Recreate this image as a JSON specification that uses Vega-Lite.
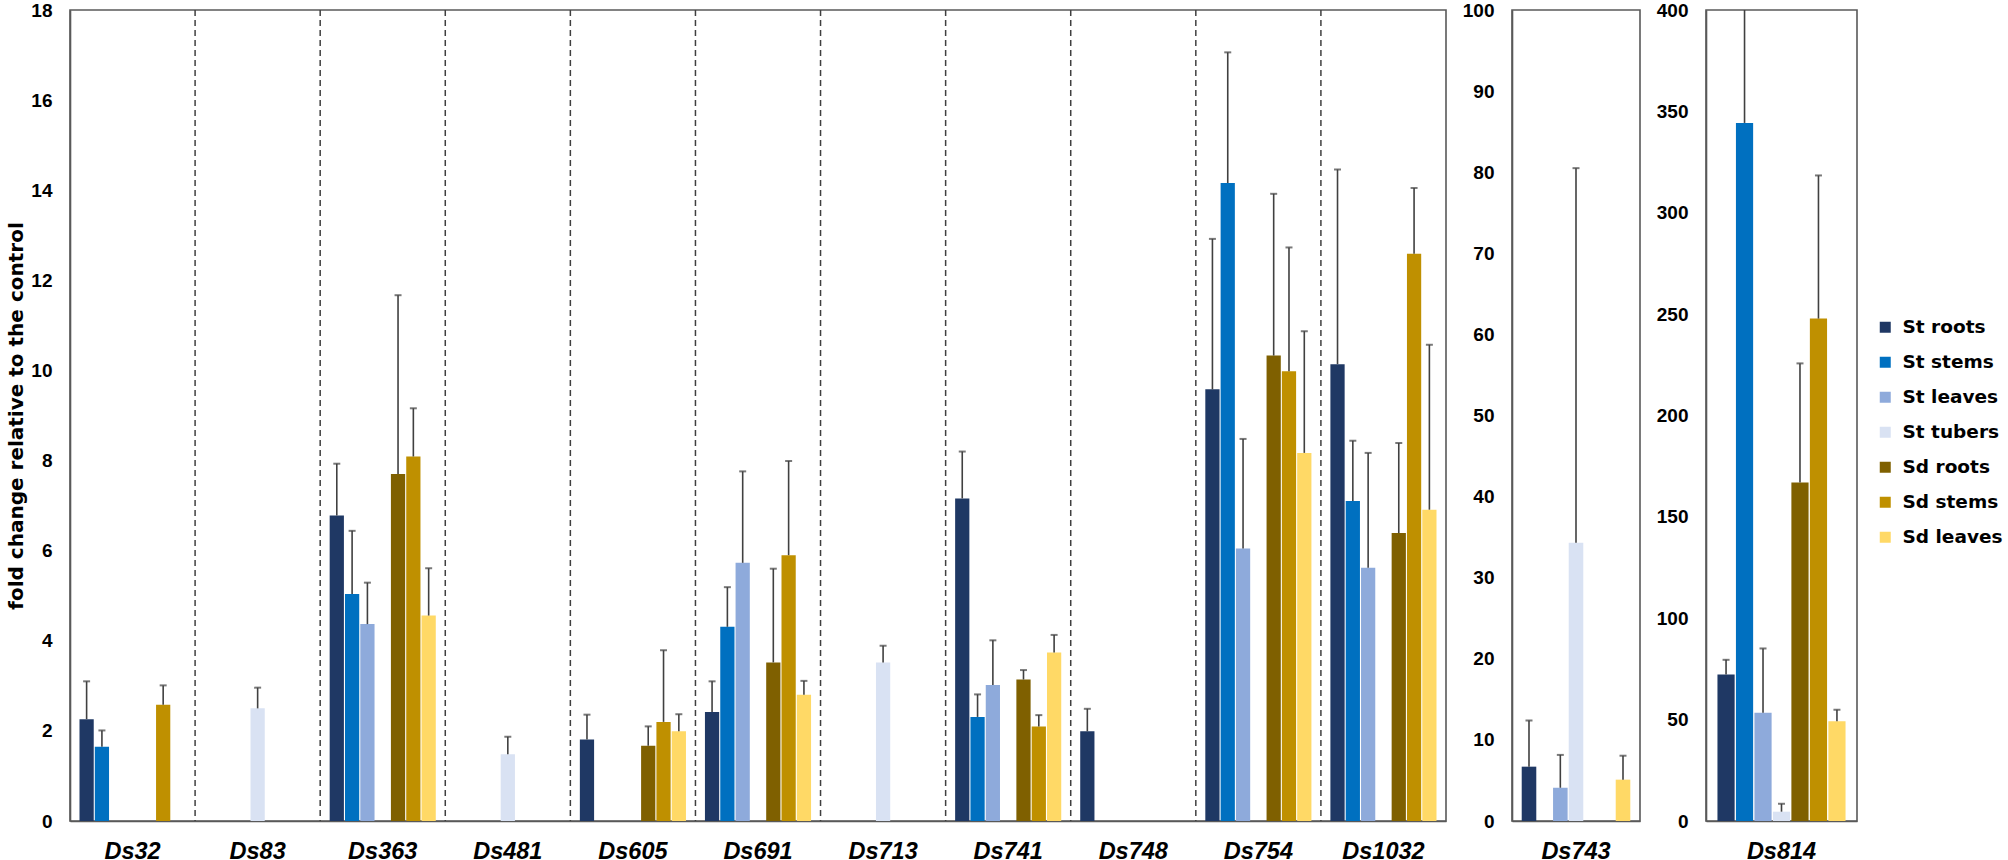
{
  "$schema": "https://vega.github.io/schema/vega-lite/v6.json",
  "background": "white",
  "padding": {"left": 5, "top": 0, "right": 0, "bottom": 0},
  "bounds": "flush",
  "spacing": 66,
  "config": {
    "view": {"stroke": "#595959", "strokeWidth": 1.6},
    "axis": {
      "grid": false, "domainColor": "#595959", "domainWidth": 1.6,
      "ticks": false, "tickSize": 0,
      "labelFont": "Liberation Sans", "labelFontWeight": "bold", "labelColor": "#000000", "titleColor": "#000000"
    },
    "axisX": {"labelFontSize": 23.5, "labelFontStyle": "italic", "labelPadding": 18, "labelAngle": 0, "title": null},
    "axisY": {"labelFontSize": 19, "labelPadding": 18, "labelBaseline": "middle"}
  },
  "data": {"values": [
    {"panel": "main", "gene": "Ds32", "tissue": "St roots", "value": 2.26, "err": 3.10},
    {"panel": "main", "gene": "Ds32", "tissue": "St stems", "value": 1.65, "err": 2.01},
    {"panel": "main", "gene": "Ds32", "tissue": "Sd stems", "value": 2.58, "err": 3.01},
    {"panel": "main", "gene": "Ds83", "tissue": "St tubers", "value": 2.50, "err": 2.96},
    {"panel": "main", "gene": "Ds363", "tissue": "St roots", "value": 6.78, "err": 7.93},
    {"panel": "main", "gene": "Ds363", "tissue": "St stems", "value": 5.04, "err": 6.44},
    {"panel": "main", "gene": "Ds363", "tissue": "St leaves", "value": 4.37, "err": 5.29},
    {"panel": "main", "gene": "Ds363", "tissue": "Sd roots", "value": 7.70, "err": 11.67},
    {"panel": "main", "gene": "Ds363", "tissue": "Sd stems", "value": 8.09, "err": 9.16},
    {"panel": "main", "gene": "Ds363", "tissue": "Sd leaves", "value": 4.56, "err": 5.61},
    {"panel": "main", "gene": "Ds481", "tissue": "St tubers", "value": 1.48, "err": 1.87},
    {"panel": "main", "gene": "Ds605", "tissue": "St roots", "value": 1.81, "err": 2.36},
    {"panel": "main", "gene": "Ds605", "tissue": "Sd roots", "value": 1.67, "err": 2.10},
    {"panel": "main", "gene": "Ds605", "tissue": "Sd stems", "value": 2.20, "err": 3.79},
    {"panel": "main", "gene": "Ds605", "tissue": "Sd leaves", "value": 1.99, "err": 2.37},
    {"panel": "main", "gene": "Ds691", "tissue": "St roots", "value": 2.42, "err": 3.10},
    {"panel": "main", "gene": "Ds691", "tissue": "St stems", "value": 4.31, "err": 5.19},
    {"panel": "main", "gene": "Ds691", "tissue": "St leaves", "value": 5.73, "err": 7.76},
    {"panel": "main", "gene": "Ds691", "tissue": "Sd roots", "value": 3.52, "err": 5.60},
    {"panel": "main", "gene": "Ds691", "tissue": "Sd stems", "value": 5.90, "err": 7.99},
    {"panel": "main", "gene": "Ds691", "tissue": "Sd leaves", "value": 2.80, "err": 3.11},
    {"panel": "main", "gene": "Ds713", "tissue": "St tubers", "value": 3.52, "err": 3.89},
    {"panel": "main", "gene": "Ds741", "tissue": "St roots", "value": 7.16, "err": 8.20},
    {"panel": "main", "gene": "Ds741", "tissue": "St stems", "value": 2.31, "err": 2.81},
    {"panel": "main", "gene": "Ds741", "tissue": "St leaves", "value": 3.02, "err": 4.01},
    {"panel": "main", "gene": "Ds741", "tissue": "Sd roots", "value": 3.14, "err": 3.35},
    {"panel": "main", "gene": "Ds741", "tissue": "Sd stems", "value": 2.10, "err": 2.35},
    {"panel": "main", "gene": "Ds741", "tissue": "Sd leaves", "value": 3.74, "err": 4.13},
    {"panel": "main", "gene": "Ds748", "tissue": "St roots", "value": 1.99, "err": 2.49},
    {"panel": "main", "gene": "Ds754", "tissue": "St roots", "value": 9.58, "err": 12.92},
    {"panel": "main", "gene": "Ds754", "tissue": "St stems", "value": 14.16, "err": 17.06},
    {"panel": "main", "gene": "Ds754", "tissue": "St leaves", "value": 6.05, "err": 8.48},
    {"panel": "main", "gene": "Ds754", "tissue": "Sd roots", "value": 10.33, "err": 13.92},
    {"panel": "main", "gene": "Ds754", "tissue": "Sd stems", "value": 9.98, "err": 12.73},
    {"panel": "main", "gene": "Ds754", "tissue": "Sd leaves", "value": 8.17, "err": 10.87},
    {"panel": "main", "gene": "Ds1032", "tissue": "St roots", "value": 10.14, "err": 14.46},
    {"panel": "main", "gene": "Ds1032", "tissue": "St stems", "value": 7.10, "err": 8.44},
    {"panel": "main", "gene": "Ds1032", "tissue": "St leaves", "value": 5.62, "err": 8.17},
    {"panel": "main", "gene": "Ds1032", "tissue": "Sd roots", "value": 6.39, "err": 8.39},
    {"panel": "main", "gene": "Ds1032", "tissue": "Sd stems", "value": 12.59, "err": 14.05},
    {"panel": "main", "gene": "Ds1032", "tissue": "Sd leaves", "value": 6.91, "err": 10.57},
    {"panel": "p743", "gene": "Ds743", "tissue": "St roots", "value": 6.7, "err": 12.4},
    {"panel": "p743", "gene": "Ds743", "tissue": "St leaves", "value": 4.1, "err": 8.15},
    {"panel": "p743", "gene": "Ds743", "tissue": "St tubers", "value": 34.3, "err": 80.5},
    {"panel": "p743", "gene": "Ds743", "tissue": "Sd leaves", "value": 5.1, "err": 8.05},
    {"panel": "p814", "gene": "Ds814", "tissue": "St roots", "value": 72.2, "err": 79.5},
    {"panel": "p814", "gene": "Ds814", "tissue": "St stems", "value": 344.3, "err": 430},
    {"panel": "p814", "gene": "Ds814", "tissue": "St leaves", "value": 53.4, "err": 85.1},
    {"panel": "p814", "gene": "Ds814", "tissue": "St tubers", "value": 4.6, "err": 8.5},
    {"panel": "p814", "gene": "Ds814", "tissue": "Sd roots", "value": 167, "err": 225.7},
    {"panel": "p814", "gene": "Ds814", "tissue": "Sd stems", "value": 247.8, "err": 318.4},
    {"panel": "p814", "gene": "Ds814", "tissue": "Sd leaves", "value": 49.2, "err": 54.9}
  ]},
  "hconcat": [
    {
      "width": 1376, "height": 811,
      "transform": [{"filter": "datum.panel == 'main'"}],
      "layer": [
        {
          "transform": [{"aggregate": [{"op": "count", "as": "n"}], "groupby": ["gene"]}, {"filter": "datum.gene != 'Ds32'"}],
          "mark": {"type": "rule", "strokeDash": [6, 4], "color": "#404040", "strokeWidth": 1.5},
          "encoding": {
            "x": {"field": "gene", "type": "nominal", "bandPosition": 0,
                  "scale": {"domain": ["Ds32","Ds83","Ds363","Ds481","Ds605","Ds691","Ds713","Ds741","Ds748","Ds754","Ds1032"], "paddingInner": 0, "paddingOuter": 0}}
          }
        },
        {
          "mark": {"type": "bar"},
          "encoding": {
            "x": {"field": "gene", "type": "nominal",
                  "scale": {"domain": ["Ds32","Ds83","Ds363","Ds481","Ds605","Ds691","Ds713","Ds741","Ds748","Ds754","Ds1032"], "paddingInner": 0, "paddingOuter": 0}},
            "xOffset": {"field": "tissue", "type": "nominal", "scale": {"domain": ["St roots","St stems","St leaves","St tubers","Sd roots","Sd stems","Sd leaves"], "paddingInner": 0.07, "paddingOuter": 0.62}},
            "y": {"field": "value", "type": "quantitative", "scale": {"domain": [0, 18], "nice": false},
                  "axis": {"values": [0,2,4,6,8,10,12,14,16,18], "title": "fold change relative to the control",
                           "titleFont": "DejaVu Sans", "titleFontSize": 20, "titleFontWeight": "bold",
                           "titleAngle": 270, "titleX": -48, "titleY": 405.5, "titleBaseline": "alphabetic", "titleAlign": "center"}},
            "color": {"field": "tissue", "type": "nominal",
                      "scale": {"domain": ["St roots","St stems","St leaves","St tubers","Sd roots","Sd stems","Sd leaves"],
                                "range": ["#1f3864","#0070c0","#8eaadb","#d9e2f3","#7f6000","#bf9000","#ffd966"]},
                      "legend": {"title": null, "orient": "none", "legendX": 1806, "legendY": 308,
                                 "symbolType": "square", "symbolSize": 121, "symbolStrokeWidth": 0,
                                 "labelFont": "DejaVu Sans", "labelFontWeight": "bold", "labelFontSize": 18.5, "labelColor": "#000000",
                                 "rowPadding": 16, "labelOffset": 8, "padding": 0}}
          }
        },
        {
          "mark": {"type": "rule", "color": "#404040", "strokeWidth": 1.6},
          "encoding": {
            "x": {"field": "gene", "type": "nominal"},
            "xOffset": {"field": "tissue", "type": "nominal"},
            "y": {"field": "value", "type": "quantitative"},
            "y2": {"field": "err"}
          }
        },
        {
          "mark": {"type": "tick", "orient": "horizontal", "size": 7, "thickness": 2, "color": "#404040"},
          "encoding": {
            "x": {"field": "gene", "type": "nominal"},
            "xOffset": {"field": "tissue", "type": "nominal"},
            "y": {"field": "err", "type": "quantitative"}
          }
        }
      ]
    },
    {
      "width": 128, "height": 811,
      "transform": [{"filter": "datum.panel == 'p743'"}],
      "layer": [
        {
          "mark": {"type": "bar"},
          "encoding": {
            "x": {"field": "gene", "type": "nominal", "scale": {"paddingInner": 0, "paddingOuter": 0}},
            "xOffset": {"field": "tissue", "type": "nominal", "scale": {"domain": ["St roots","St stems","St leaves","St tubers","Sd roots","Sd stems","Sd leaves"], "paddingInner": 0.07, "paddingOuter": 0.62}},
            "y": {"field": "value", "type": "quantitative", "scale": {"domain": [0, 100], "nice": false},
                  "axis": {"values": [0,10,20,30,40,50,60,70,80,90,100], "title": null}},
            "color": {"field": "tissue", "type": "nominal",
                      "scale": {"domain": ["St roots","St stems","St leaves","St tubers","Sd roots","Sd stems","Sd leaves"],
                                "range": ["#1f3864","#0070c0","#8eaadb","#d9e2f3","#7f6000","#bf9000","#ffd966"]},
                      "legend": {"title": null, "orient": "none", "legendX": 1806, "legendY": 308,
                                 "symbolType": "square", "symbolSize": 121, "symbolStrokeWidth": 0,
                                 "labelFont": "DejaVu Sans", "labelFontWeight": "bold", "labelFontSize": 18.5, "labelColor": "#000000",
                                 "rowPadding": 16, "labelOffset": 8, "padding": 0}}
          }
        },
        {
          "mark": {"type": "rule", "color": "#404040", "strokeWidth": 1.6},
          "encoding": {
            "x": {"field": "gene", "type": "nominal"},
            "xOffset": {"field": "tissue", "type": "nominal"},
            "y": {"field": "value", "type": "quantitative"},
            "y2": {"field": "err"}
          }
        },
        {
          "mark": {"type": "tick", "orient": "horizontal", "size": 7, "thickness": 2, "color": "#404040"},
          "encoding": {
            "x": {"field": "gene", "type": "nominal"},
            "xOffset": {"field": "tissue", "type": "nominal"},
            "y": {"field": "err", "type": "quantitative"}
          }
        }
      ]
    },
    {
      "width": 151, "height": 811,
      "transform": [{"filter": "datum.panel == 'p814'"}],
      "layer": [
        {
          "mark": {"type": "bar"},
          "encoding": {
            "x": {"field": "gene", "type": "nominal", "scale": {"paddingInner": 0, "paddingOuter": 0}},
            "xOffset": {"field": "tissue", "type": "nominal", "scale": {"domain": ["St roots","St stems","St leaves","St tubers","Sd roots","Sd stems","Sd leaves"], "paddingInner": 0.07, "paddingOuter": 0.62}},
            "y": {"field": "value", "type": "quantitative", "scale": {"domain": [0, 400], "nice": false},
                  "axis": {"values": [0,50,100,150,200,250,300,350,400], "title": null}},
            "color": {"field": "tissue", "type": "nominal",
                      "scale": {"domain": ["St roots","St stems","St leaves","St tubers","Sd roots","Sd stems","Sd leaves"],
                                "range": ["#1f3864","#0070c0","#8eaadb","#d9e2f3","#7f6000","#bf9000","#ffd966"]},
                      "legend": {"title": null, "orient": "none", "legendX": 1806, "legendY": 308,
                                 "symbolType": "square", "symbolSize": 121, "symbolStrokeWidth": 0,
                                 "labelFont": "DejaVu Sans", "labelFontWeight": "bold", "labelFontSize": 18.5, "labelColor": "#000000",
                                 "rowPadding": 16, "labelOffset": 8, "padding": 0}}
          }
        },
        {
          "mark": {"type": "rule", "color": "#404040", "strokeWidth": 1.6, "clip": true},
          "encoding": {
            "x": {"field": "gene", "type": "nominal"},
            "xOffset": {"field": "tissue", "type": "nominal"},
            "y": {"field": "value", "type": "quantitative"},
            "y2": {"field": "err"}
          }
        },
        {
          "mark": {"type": "tick", "orient": "horizontal", "size": 7, "thickness": 2, "color": "#404040", "clip": true},
          "encoding": {
            "x": {"field": "gene", "type": "nominal"},
            "xOffset": {"field": "tissue", "type": "nominal"},
            "y": {"field": "err", "type": "quantitative"}
          }
        }
      ]
    }
  ],
  "resolve": {"scale": {"x": "independent", "y": "independent", "xOffset": "independent", "color": "shared"}}
}
